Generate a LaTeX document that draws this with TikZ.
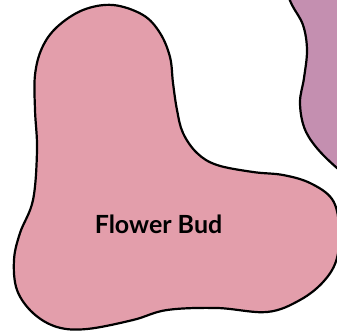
\documentclass[tikz,border=0pt]{standalone}
\usepackage{fontspec}
\newfontfamily\labfont{Lato}
\definecolor{budpink}{HTML}{E39EAB}
\definecolor{blobpurple}{HTML}{C48FB0}
\tikzset{
  blob/.style={draw=black, line width=2.2pt, line join=round},
  lbl/.style={font=\labfont\bfseries\fontsize{25}{27}\selectfont, text=black, inner sep=0pt}
}
\begin{document}
\begin{tikzpicture}[x=1pt,y=-1pt]
\useasboundingbox (0,0) rectangle (337,330);
\clip (0,0) rectangle (337,330);
% purple blob (partially visible)
\fill[blobpurple] plot[smooth, tension=0.6] coordinates {(285,-12) (292,5) (303,25) (307,50) (304,78) (300,102) (304,127) (316,147) (337,168) (360,185)} -- (400,185) -- (400,-12) -- cycle;
\draw[blob] plot[smooth, tension=0.6] coordinates {(285,-12) (292,5) (303,25) (307,50) (304,78) (300,102) (304,127) (316,147) (337,168) (360,185)};
% pink blob
\draw[blob, fill=budpink] plot[smooth cycle, tension=0.6] coordinates {
 (113,5) (143,15) (160,33) (170,57) (173,83) (177,110) (183,133) (197,153) (217,165)
 (253,172) (283,175) (310,183) (332,199) (339,225) (337,258) (324,281) (300,300)
 (267,312) (217,308) (167,310) (133,320) (87,329) (57,327) (33,313) (17,290) (14,260)
 (20,233) (33,200) (37,150) (35,110) (35,75) (42,48) (57,27) (83,10)};
\node[lbl] (bud) at (158.5,224) {Flower Bud};
\end{tikzpicture}
\end{document}
